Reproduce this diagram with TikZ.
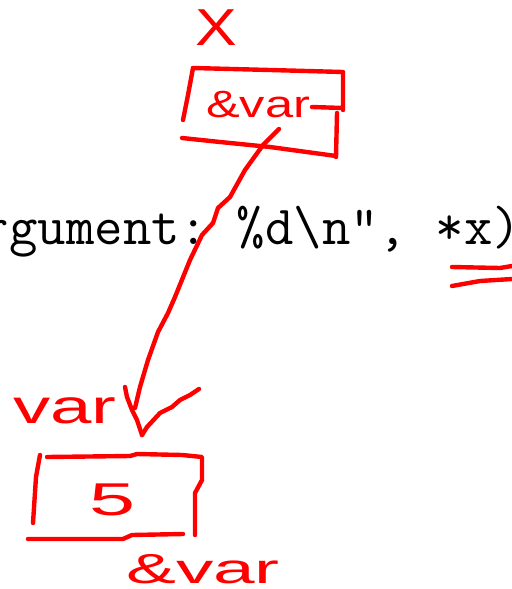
\documentclass[tikz,border=0pt]{standalone}
\usepackage{fontspec}
\setmainfont{Liberation Sans}
\usetikzlibrary{calc}

\tikzset{
  toll/.style={red, line width=2.2pt, line cap=round, line join=round},
  kez/.style={red, inner sep=0pt, anchor=base}
}

\begin{document}
\begin{tikzpicture}[x=0.5pt,y=-0.5pt]
    \clip (0,0) rectangle (512,589);

    % Kód sora (két oldalt levágva)
    \node[anchor=base west, inner sep=0pt, font=\fontsize{27.6}{30}\selectfont\ttfamily] (kod) at (-19.5,244) {rgument:\ \%d\textbackslash n", *x)};
    \draw[toll] (452,267) -- (500,268) -- (512,266); % felső aláhúzás
    \draw[toll] (452,286) -- (480,281) -- (512,279); % alsó aláhúzás

    % Felső doboz: x
    \node[kez, font=\fontsize{26}{28}\selectfont, xscale=1.2] (xnev) at (216,45) {X};
    \draw[toll] (193,68) -- (270,70) -- (343,72) -- (343,110);
    \draw[toll] (193,68) -- (188,95) -- (183,120);
    \draw[toll] (337,113) -- (336,157);
    \draw[toll] (182,138) -- (220,142) -- (270,147) -- (336,156);
    \node[kez, font=\fontsize{19}{21}\selectfont, xscale=1.33] (xert) at (258,117) {\&var};
    \draw[toll] (312,107) -- (343,108);

    % Alsó doboz: var
    \node[kez, font=\fontsize{24}{26}\selectfont, xscale=1.55] (vnev) at (65,423) {var};
    \draw[toll] (47,457) -- (130,456) -- (137,454) -- (182,455) -- (202,457) -- (202,480) -- (195,493) -- (195,535);
    \draw[toll] (40,455) -- (36,477) -- (33,523);
    \draw[toll] (28,539) -- (123,539) -- (132,535) -- (183,534);
    \node[kez, font=\fontsize{23}{25}\selectfont, xscale=1.8] (vert) at (113,515) {5};
    \node[kez, font=\fontsize{21}{23}\selectfont, xscale=1.78] (vcim) at (203,583) {\&var};

    % Mutató nyíl
    \coordinate (ki) at (279,129);
    \coordinate (be) at (135,408);
    \coordinate (hegy) at (142,435);
    \draw[toll] (ki) -- (263,145) -- (245,170) -- (230,197) -- (218,208) -- (213,223) -- (202,235) -- (190,260) -- (175,297) -- (168,313) -- (158,332) -- (148,360) -- (140,387) -- (be);
    \draw[toll] (125,387) -- (127,397) -- (132,410) -- (137,420) -- (hegy);
    \draw[toll] (hegy) -- (147,427) -- (160,413) -- (172,407) -- (180,400) -- (190,395) -- (199,389);
\end{tikzpicture}
\end{document}
